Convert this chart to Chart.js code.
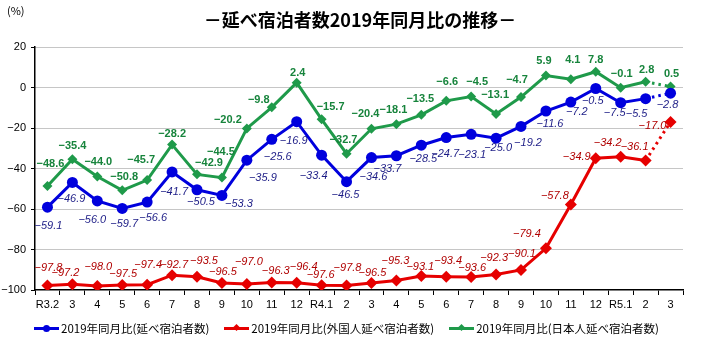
<!DOCTYPE html>
<html lang="ja">
<head>
<meta charset="utf-8">
<title>延べ宿泊者数2019年同月比の推移</title>
<script src="https://cdn.jsdelivr.net/npm/chart.js@4.4.1/dist/chart.umd.min.js"></script>
<style>
    html, body { margin: 0; padding: 0; background: #fff; }
    #wrap { position: relative; width: 705px; height: 347px; overflow: hidden; }
    #chart { position: absolute; left: 0; top: 0; }
    #unit { position: absolute; left: 7px; top: 2px; font: 11px "Noto Sans CJK JP", sans-serif; color: #000; }
    #title { position: absolute; left: 0; width: 720px; top: 6px; text-align: center;
             font: bold 18px/26px "Noto Sans CJK JP", sans-serif; color: #000; }
    #legend { position: absolute; left: 34px; top: 319px; display: flex;
              font: 11.5px/18px "Noto Sans CJK JP", sans-serif; color: #000; white-space: nowrap; }
    .item { display: flex; align-items: center; margin-right: 15px; }
    .swatch { position: relative; width: 25px; height: 3px; margin-right: 2px; }
    .swatch i { position: absolute; left: 9px; top: -2px; width: 7px; height: 7px; }
    .swatch i.circle { border-radius: 50%; }
    .swatch i.diamond { left: 10px; top: -1.5px; width: 5px; height: 5px; transform: rotate(45deg); }
</style>
</head>
<body>
<div id="wrap">
    <canvas id="chart" width="705" height="347"></canvas>
    <div id="unit">(%)</div>
    <div id="title">－延べ宿泊者数2019年同月比の推移－</div>
    <div id="legend"></div>
</div>
<script>
(function () {
    'use strict';

    const months = ['R3.2', '3', '4', '5', '6', '7', '8', '9', '10', '11', '12',
        'R4.1', '2', '3', '4', '5', '6', '7', '8', '9', '10', '11', '12',
        'R5.1', '2', '3'];

    // 延べ宿泊者数（全体）
    const totalYoY = [-59.1, -46.9, -56.0, -59.7, -56.6, -41.7, -50.5, -53.3, -35.9, -25.6, -16.9,
        -33.4, -46.5, -34.6, -33.7, -28.5, -24.7, -23.1, -25.0, -19.2, -11.6, -7.2, -0.5,
        -7.5, -5.5, -2.8];
    // 外国人延べ宿泊者数
    const foreignYoY = [-97.8, -97.2, -98.0, -97.5, -97.4, -92.7, -93.5, -96.5, -97.0, -96.3, -96.4,
        -97.6, -97.8, -96.5, -95.3, -93.1, -93.4, -93.6, -92.3, -90.1, -79.4, -57.8, -34.9,
        -34.2, -36.1, -17.0];
    // 日本人延べ宿泊者数
    const japaneseYoY = [-48.6, -35.4, -44.0, -50.8, -45.7, -28.2, -42.9, -44.5, -20.2, -9.8, 2.4,
        -15.7, -32.7, -20.4, -18.1, -13.5, -6.6, -4.5, -13.1, -4.7, 5.9, 4.1, 7.8,
        -0.1, 2.8, 0.5];

    const yMin = -100;
    const yMax = 20;
    const yStep = 20;

    // 数値ラベルの位置（点からのずれ, px）
    const totalLabelOffsets = [[1, 19], [-1, 16], [-5, 19], [2, 16], [6, 16], [2, 20], [4, 12], [17, 9],
        [16, 18], [6, 18], [-3, 19], [-8, 21], [-1, 13], [2, 19], [-9, 13], [2, 14], [-1, 16],
        [1, 21], [2, 10], [7, 17], [4, 13], [6, 10], [-3, 12], [-6, 10], [-9, 15], [-3, 12]];
    const foreignLabelOffsets = [[1, -18], [-7, -11], [1, -19], [1, -11], [1, -20], [2, -10], [7, -16],
        [1, -11], [2, -22], [4, -12], [7, -16], [-1, -10], [1, -18], [1, -10], [-1, -20], [-1, -9],
        [2, -16], [1, -9], [-2, -16], [1, -16], [-19, -14], [-16, -9], [-19, -1], [-13, -14],
        [-11, -14], [-18, 4]];
    const japaneseLabelOffsets = [[3, -22], [0, -13], [1, -15], [2, -13], [-6, -20], [0, -11], [12, -11],
        [-1, -26], [-19, -8], [-13, -7], [1, -10], [9, -12], [-3, -14], [-6, -15], [-3, -14],
        [-1, -16], [1, -19], [6, -15], [-1, -19], [-4, -17], [-2, -15], [2, -19], [0, -12],
        [1, -14], [1, -12], [1, -13]];

    const numFont = '"Liberation Sans", Arial, sans-serif';
    const lastIndex = months.length - 1;

    const series = [
        { label: '2019年同月比(延べ宿泊者数)', data: totalYoY, color: '#0000dd', marker: 'circle', radius: 5.5,
          labelColor: '#1c1c86', labelFont: 'italic 11px ' + numFont, offsets: totalLabelOffsets },
        { label: '2019年同月比(外国人延べ宿泊者数)', data: foreignYoY, color: '#e60000', marker: 'rectRot', radius: 6,
          labelColor: '#b00000', labelFont: 'italic 11px ' + numFont, offsets: foreignLabelOffsets },
        { label: '2019年同月比(日本人延べ宿泊者数)', data: japaneseYoY, color: '#1f9a4a', marker: 'rectRot', radius: 5,
          labelColor: '#17843c', labelFont: 'bold 11px ' + numFont, offsets: japaneseLabelOffsets },
    ];

    function fmt(v) {
        return (v < 0 ? '\u2212' : '') + Math.abs(v).toFixed(1);
    }

    // 各点の数値を描く
    const valueLabels = {
        id: 'valueLabels',
        afterDatasetsDraw(chart) {
            const ctx = chart.ctx;
            series.forEach((s, di) => {
                const meta = chart.getDatasetMeta(di);
                ctx.save();
                ctx.font = s.labelFont;
                ctx.fillStyle = s.labelColor;
                ctx.textAlign = 'center';
                ctx.textBaseline = 'middle';
                meta.data.forEach((pt, i) => {
                    const off = s.offsets[i];
                    ctx.fillText(fmt(s.data[i]), pt.x + off[0], pt.y + off[1]);
                });
                ctx.restore();
            });
        },
    };

    new Chart(document.getElementById('chart'), {
        type: 'line',
        data: {
            labels: months,
            datasets: series.map(s => ({
                label: s.label,
                data: s.data,
                borderColor: s.color,
                backgroundColor: s.color,
                borderWidth: 3,
                tension: 0,
                fill: false,
                pointStyle: s.marker,
                pointRadius: s.radius,
                pointBackgroundColor: s.color,
                pointBorderColor: s.color,
                pointBorderWidth: 0,
                segment: {
                    borderDash: c => (c.p1DataIndex === lastIndex ? [2.5, 4] : undefined),
                },
            })),
        },
        options: {
            responsive: false,
            animation: false,
            layout: { padding: { left: 0, right: 22, top: 47, bottom: 0 } },
            plugins: {
                legend: { display: false },
                title: { display: false },
                tooltip: { enabled: false },
            },
            scales: {
                x: {
                    offset: true,
                    grid: { offset: true, drawOnChartArea: false, color: '#000', tickLength: 5 },
                    border: { color: '#000', width: 1.5 },
                    ticks: {
                        color: '#000',
                        font: { family: numFont, size: 11 },
                        padding: 3,
                        maxRotation: 0,
                        autoSkip: false,
                    },
                    afterFit: s => { s.height = 57; },
                },
                y: {
                    min: yMin,
                    max: yMax,
                    grid: {
                        color: c => (c.tick && c.tick.value === yMin ? 'rgba(0,0,0,0)' : '#8c8c8c'),
                        lineWidth: 1,
                        tickColor: '#000',
                        tickLength: 4,
                        tickBorderDash: [],
                    },
                    border: { color: '#000', width: 1.5, dash: [1, 1] },
                    ticks: {
                        stepSize: yStep,
                        color: '#000',
                        font: { family: numFont, size: 11 },
                        padding: 5,
                        callback: v => (v < 0 ? '\u2212' : '') + Math.abs(v),
                    },
                    afterFit: s => { s.width = 35; },
                },
            },
        },
        plugins: [valueLabels],
    });

    // 凡例
    const legend = document.getElementById('legend');
    series.forEach(s => {
        const item = document.createElement('div');
        item.className = 'item';
        const sw = document.createElement('span');
        sw.className = 'swatch';
        sw.style.background = s.color;
        const mk = document.createElement('i');
        mk.className = s.marker === 'circle' ? 'circle' : 'diamond';
        mk.style.background = s.color;
        sw.appendChild(mk);
        const txt = document.createElement('span');
        txt.textContent = s.label;
        item.appendChild(sw);
        item.appendChild(txt);
        legend.appendChild(item);
    });
})();
</script>
</body>
</html>
